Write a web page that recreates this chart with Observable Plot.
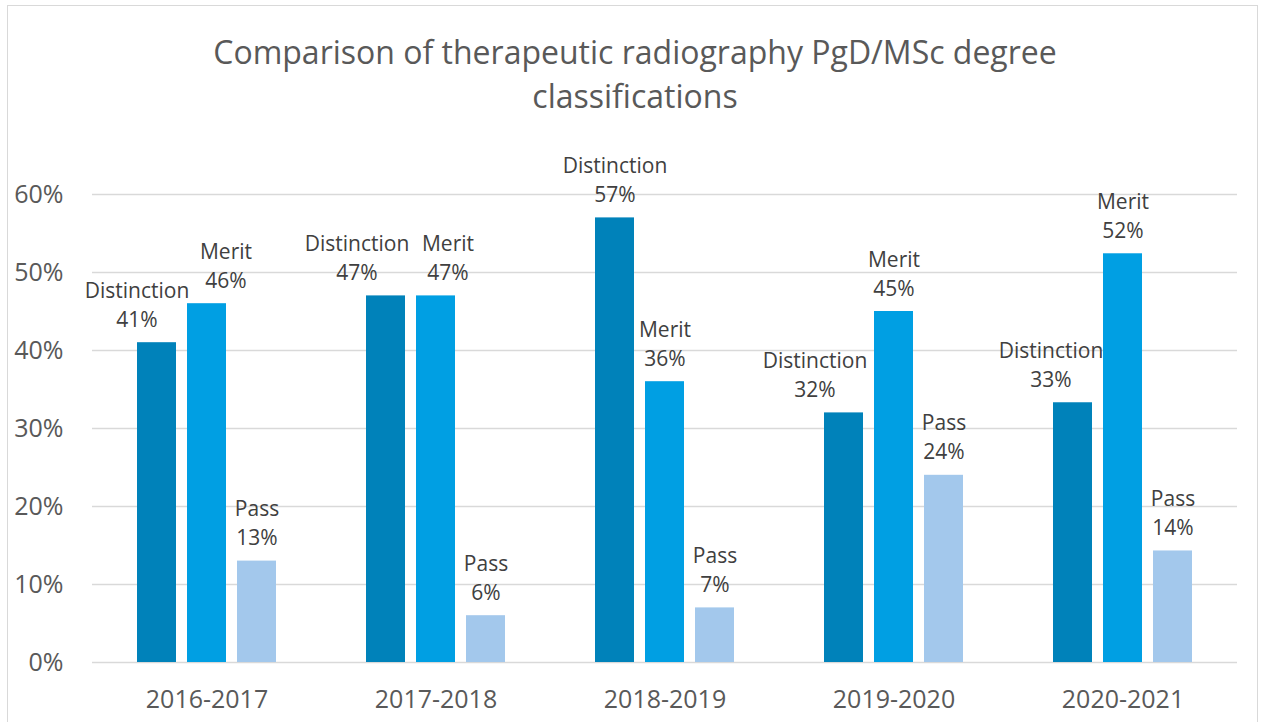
<!DOCTYPE html>
<html>
<head>
<meta charset="utf-8">
<script src="https://cdn.jsdelivr.net/npm/d3@7"></script>
<script src="https://cdn.jsdelivr.net/npm/@observablehq/plot@0.6"></script>
<style>
  html, body { margin: 0; padding: 0; background: #fff; width: 1264px; height: 722px; overflow: hidden; }
  #frame { position: absolute; left: 7px; top: 5px; width: 1251px; height: 740px; border: 1.5px solid #d9d9d9; box-sizing: border-box; }
  #title { position: absolute; left: 0; top: 30px; width: 1270px; text-align: center; font-family: "Open Sans", sans-serif; font-size: 32px; line-height: 44px; color: #595959; }
  #chart { position: absolute; left: 0; top: 130px; }
</style>
</head>
<body>
<div id="frame"></div>
<div id="title">Comparison of therapeutic radiography PgD/MSc degree<br>classifications</div>
<div id="chart"></div>
<script>
const years = ["2016-2017", "2017-2018", "2018-2019", "2019-2020", "2020-2021"];
const classes = ["Distinction", "Merit", "Pass"];
const distinction = [0.41, 0.47, 0.57, 0.32, 0.333];
const merit = [0.46, 0.47, 0.36, 0.45, 0.524];
const pass = [0.13, 0.06, 0.07, 0.24, 0.143];
const yTicks = [0, 0.1, 0.2, 0.3, 0.4, 0.5, 0.6];
const colors = ["#0082BA", "#009FE3", "#A3C8EC"];

const series = [distinction, merit, pass];
const rows = [];
years.forEach((yr, i) => classes.forEach((c, j) => rows.push({year: yr, type: c, value: series[j][i]})));

// label nudges (layout only) to mimic spreadsheet label placement
const nudge = {"2016-2017|Distinction": -20, "2016-2017|Merit": 19, "2017-2018|Distinction": -29,
               "2017-2018|Merit": 12, "2019-2020|Distinction": -29, "2020-2021|Distinction": -22};
const key = d => d.year + "|" + d.type;
const groups = d3.group(rows, d => nudge[key(d)] ?? 0);
const labelMarks = [...groups].map(([dx, data]) => Plot.text(data, {
  fx: "year", x: "type", y: "value",
  text: d => `${d.type}\n${Math.round(d.value * 100)}%`,
  lineAnchor: "bottom", lineHeight: 1.38, dy: -16, dx,
  fontSize: 21, fill: "#404040"
}));

const chart = Plot.plot({
  width: 1264, height: 592,
  marginLeft: 92, marginRight: 27, marginTop: 64, marginBottom: 60,
  style: {fontFamily: "Open Sans, sans-serif", fontSize: "25px", color: "#595959", background: "transparent"},
  fx: {domain: years, padding: 0, axis: "bottom", tickSize: 0, tickPadding: 28, label: null},
  x: {domain: classes, axis: null, paddingInner: 0.2157, paddingOuter: 0.853},
  y: {domain: [0, 0.6], ticks: yTicks, tickFormat: d3.format(".0%"), tickSize: 0, tickPadding: 29, label: null},
  color: {domain: classes, range: colors},
  marks: [
    Plot.ruleY(yTicks, {stroke: "#d9d9d9", strokeWidth: 1.5}),
    Plot.barY(rows, {fx: "year", x: "type", y: "value", fill: "type"}),
    ...labelMarks
  ]
});
document.getElementById("chart").appendChild(chart);
</script>
</body>
</html>
